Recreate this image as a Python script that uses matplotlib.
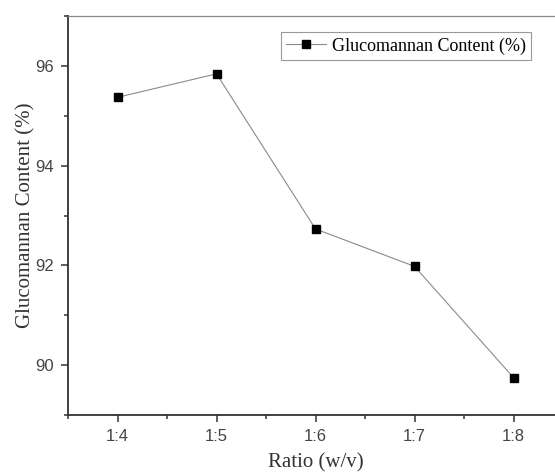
import numpy as np
import matplotlib.pyplot as plt
from matplotlib.ticker import MultipleLocator

ratios = ['1:4', '1:5', '1:6', '1:7', '1:8']
content = [95.37, 95.84, 92.73, 91.98, 89.75]

fig = plt.figure(figsize=(5.55, 4.75), dpi=100)
ax = fig.add_axes([68 / 555, 60 / 475, 495 / 555, 399 / 475])

x = np.arange(len(ratios))
ax.plot(x, content, color='#8a8a8a', lw=0.8, marker='s', ms=6,
        mfc='black', mec='black', label='Glucomannan Content (%)')

ax.set_xlim(-0.5, 4.5)
ax.set_ylim(89, 97)
ax.set_xticks(x)
ax.set_xticklabels(ratios)
ax.xaxis.set_minor_locator(MultipleLocator(0.5))
ax.yaxis.set_major_locator(MultipleLocator(2))
ax.yaxis.set_minor_locator(MultipleLocator(1))

for s in ['left', 'bottom']:
    ax.spines[s].set_color('#333333')
    ax.spines[s].set_linewidth(1.3)
ax.spines['top'].set_color('#888888')
ax.spines['top'].set_linewidth(0.9)
ax.spines['right'].set_visible(False)

ax.tick_params(which='major', direction='out', length=5, width=1.1,
               color='#333333', labelsize=12, labelcolor='#444444', pad=5)
ax.tick_params(which='minor', direction='out', length=3, width=1.1,
               color='#333333')
ax.tick_params(top=False, right=False, which='both')
for lab in ax.get_xticklabels() + ax.get_yticklabels():
    lab.set_family('Liberation Sans')

ax.set_xlabel('Ratio (w/v)', family='Liberation Serif', fontsize=15,
              color='#333333', labelpad=7)
ax.set_ylabel('Glucomannan Content (%)', family='Liberation Serif',
              fontsize=15, color='#333333', labelpad=0)

leg = ax.legend(loc='upper left', bbox_to_anchor=(213 / 495, 1 - 16 / 399),
                prop={'family': 'Liberation Serif', 'size': 13},
                fancybox=False, edgecolor='#999999', framealpha=1,
                handlelength=2.2, handletextpad=0.3, borderpad=0.3,
                borderaxespad=0)
leg.get_frame().set_linewidth(0.8)

fig.savefig('out.png', dpi=100)
